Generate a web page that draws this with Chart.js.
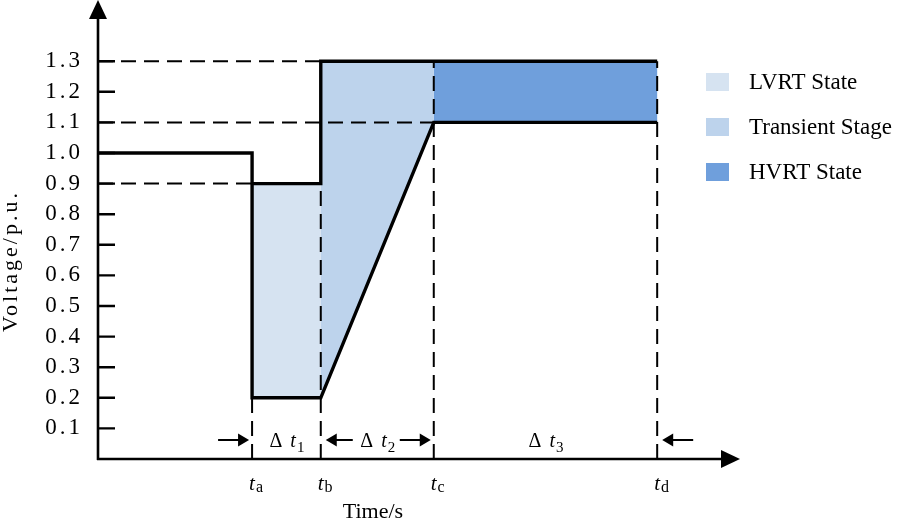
<!DOCTYPE html>
<html>
<head>
<meta charset="utf-8">
<script src="https://cdn.jsdelivr.net/npm/chart.js@4.4.1/dist/chart.umd.min.js"></script>
<style>
  html, body { margin: 0; padding: 0; background: #fff; }
  #wrap { width: 902px; height: 520px; }
</style>
</head>
<body>
<div id="wrap"><canvas id="myChart" width="902" height="520"></canvas></div>
<script>
// time marks ta, tb, tc, td (arbitrary time units)
const tMarks = [2.4, 3.47, 5.23, 8.71];
const tNames = ["a", "b", "c", "d"];
const deltaNames = ["1", "2", "3"];
const yTicks = [0.1, 0.2, 0.3, 0.4, 0.5, 0.6, 0.7, 0.8, 0.9, 1.0, 1.1, 1.2, 1.3];

const [ta, tb, tc, td] = tMarks;

// voltage curve (solid)
const voltX = [0, ta, ta, tb, tc, td];
const voltY = [1.0, 1.0, 0.2, 0.2, 1.1, 1.1];
// upper boundary (solid)
const limitX = [ta, tb, tb, td];
const limitY = [0.9, 0.9, 1.3, 1.3];

// shaded regions
const lvrtX = [ta, ta, tb, tb];
const lvrtY = [0.2, 0.9, 0.9, 0.2];
const transX = [tb, tb, tc, tc];
const transY = [0.2, 1.3, 1.3, 1.1];
const hvrtX = [tc, tc, td, td];
const hvrtY = [1.1, 1.3, 1.3, 1.1];

const regionNames = ["LVRT State", "Transient Stage", "HVRT State"];
const regionColors = ["#d6e3f1", "#bdd3ec", "#6f9fdc"];

// dashed guide lines: x0, y0, x1, y1
const guideLines = [
  [0, 1.3, tb, 1.3],
  [0, 1.1, tc, 1.1],
  [0, 0.9, ta, 0.9],
  [ta, 0, ta, 0.2],
  [tb, 0, tb, 0.9],
  [tc, 0, tc, 1.3],
  [td, 0, td, 1.3]
];

const SERIF = "'Liberation Serif', 'Times New Roman', serif";

const toPts = (xs, ys) => xs.map((x, i) => ({ x: x, y: ys[i] }));

const datasets = [];
// solid curves on top
datasets.push({ data: toPts(voltX, voltY), borderColor: "#000", borderWidth: 3.4 });
datasets.push({ data: toPts(limitX, limitY), borderColor: "#000", borderWidth: 3.4 });
guideLines.forEach(g => {
  datasets.push({
    data: [{ x: g[0], y: g[1] }, { x: g[2], y: g[3] }],
    borderColor: "#000", borderWidth: 2, borderDash: [15, 8]
  });
});
[[lvrtX, lvrtY], [transX, transY], [hvrtX, hvrtY]].forEach((r, i) => {
  datasets.push({
    label: regionNames[i],
    data: toPts(r[0], r[1]),
    fill: "shape",
    backgroundColor: regionColors[i],
    borderColor: regionColors[i],
    borderWidth: 0
  });
});

function arrow(ctx, x0, x1, y) {
  // line from x0 to tip x1
  const dir = x1 > x0 ? 1 : -1;
  ctx.beginPath();
  ctx.moveTo(x0, y);
  ctx.lineTo(x1 - dir * 9, y);
  ctx.stroke();
  ctx.beginPath();
  ctx.moveTo(x1, y);
  ctx.lineTo(x1 - dir * 11, y - 6.5);
  ctx.lineTo(x1 - dir * 11, y + 6.5);
  ctx.closePath();
  ctx.fill();
}

const overlay = {
  id: "overlay",
  beforeDraw(chart) {
    chart.ctx.letterSpacing = "3px"; // wide tick labels
  },
  beforeDatasetsDraw(chart) {
    chart.ctx.letterSpacing = "0px";
  },
  afterDraw(chart) {
    const ctx = chart.ctx;
    const { left, right, bottom } = chart.chartArea;
    const xs = chart.scales.x, ys = chart.scales.y;
    ctx.save();
    ctx.letterSpacing = "0px";
    ctx.strokeStyle = "#000";
    ctx.fillStyle = "#000";
    ctx.setLineDash([]);

    // axes with arrow heads
    ctx.lineWidth = 2.6;
    ctx.beginPath();
    ctx.moveTo(left, bottom + 1);
    ctx.lineTo(left, 18);
    ctx.moveTo(left - 1, bottom);
    ctx.lineTo(right - 18, bottom);
    ctx.stroke();
    ctx.beginPath();
    ctx.moveTo(left, 0);
    ctx.lineTo(left - 9, 19);
    ctx.lineTo(left + 9, 19);
    ctx.closePath();
    ctx.fill();
    ctx.beginPath();
    ctx.moveTo(right, bottom);
    ctx.lineTo(right - 19, bottom - 9);
    ctx.lineTo(right - 19, bottom + 9);
    ctx.closePath();
    ctx.fill();

    // inward tick marks
    ctx.lineWidth = 2.4;
    ctx.beginPath();
    yTicks.forEach(v => {
      const py = ys.getPixelForValue(v);
      ctx.moveTo(left, py);
      ctx.lineTo(left + 17, py);
    });
    ctx.stroke();

    // t labels under x axis
    tMarks.forEach((t, i) => {
      const px = xs.getPixelForValue(t);
      ctx.font = "italic 21px " + SERIF;
      ctx.textAlign = "left";
      ctx.textBaseline = "alphabetic";
      ctx.fillText("t", px - 3, 490);
      const w = ctx.measureText("t").width;
      ctx.font = "16px " + SERIF;
      ctx.fillText(tNames[i], px - 3 + w + 1, 492);
    });

    // delta t labels and arrows
    const ay = 440;
    ctx.lineWidth = 2;
    const pa = xs.getPixelForValue(ta), pb = xs.getPixelForValue(tb);
    const pc = xs.getPixelForValue(tc), pd = xs.getPixelForValue(td);
    arrow(ctx, pa - 34, pa - 3, ay);
    arrow(ctx, pb + 32, pb + 5, ay);
    arrow(ctx, pc - 34, pc - 3, ay);
    arrow(ctx, pd + 36, pd + 5, ay);
    for (let i = 0; i < 3; i++) {
      const cx = (xs.getPixelForValue(tMarks[i]) + xs.getPixelForValue(tMarks[i + 1])) / 2;
      ctx.font = "20px " + SERIF;
      const wD = ctx.measureText("\u0394").width;
      ctx.font = "italic 20px " + SERIF;
      const wT = ctx.measureText("t").width;
      ctx.font = "15px " + SERIF;
      const wS = ctx.measureText(deltaNames[i]).width;
      const gap = 8;
      let x = cx - (wD + gap + wT + wS) / 2;
      ctx.textAlign = "left";
      ctx.font = "20px " + SERIF;
      ctx.fillText("\u0394", x, 447);
      x += wD + gap;
      ctx.font = "italic 20px " + SERIF;
      ctx.fillText("t", x, 447);
      x += wT;
      ctx.font = "15px " + SERIF;
      ctx.fillText(deltaNames[i], x + 1, 452);
    }

    // axis titles
    ctx.font = "22px " + SERIF;
    ctx.textAlign = "center";
    ctx.fillText("Time/s", 373, 518);
    ctx.save();
    ctx.translate(11, 261);
    ctx.rotate(-Math.PI / 2);
    ctx.letterSpacing = "3px";
    ctx.textBaseline = "middle";
    ctx.fillText("Voltage/p.u.", 0, 0);
    ctx.restore();

    // legend
    let row = 0;
    chart.data.datasets.forEach(ds => {
      if (!ds.label) return;
      const top = 73 + row * 45;
      ctx.fillStyle = ds.backgroundColor;
      ctx.fillRect(706, top, 23, 18);
      ctx.fillStyle = "#000";
      ctx.font = "23px " + SERIF;
      ctx.textAlign = "left";
      ctx.textBaseline = "alphabetic";
      ctx.fillText(ds.label, 749, top + 16);
      row++;
    });
    ctx.restore();
  }
};

new Chart(document.getElementById("myChart"), {
  type: "line",
  data: { datasets: datasets },
  options: {
    responsive: false,
    maintainAspectRatio: false,
    animation: false,
    devicePixelRatio: 1,
    layout: { autoPadding: false, padding: { left: 0, top: 0, right: 162, bottom: 61 } },
    elements: {
      point: { radius: 0, hoverRadius: 0 },
      line: { tension: 0, borderJoinStyle: "miter", borderCapStyle: "butt" }
    },
    plugins: { legend: { display: false }, tooltip: { enabled: false } },
    scales: {
      x: { type: "linear", min: 0, max: 10, display: false },
      y: {
        type: "linear", min: 0, max: 1.5,
        afterBuildTicks: s => { s.ticks = yTicks.map(v => ({ value: v })); },
        afterFit: s => { s.width = 98; s.paddingTop = 0; s.paddingBottom = 0; },
        grid: { display: false },
        border: { display: false },
        ticks: {
          autoSkip: false,
          padding: 7,
          color: "#000",
          font: { family: SERIF, size: 23 },
          callback: v => Number(v).toFixed(1)
        }
      }
    }
  },
  plugins: [overlay]
});
</script>
</body>
</html>
